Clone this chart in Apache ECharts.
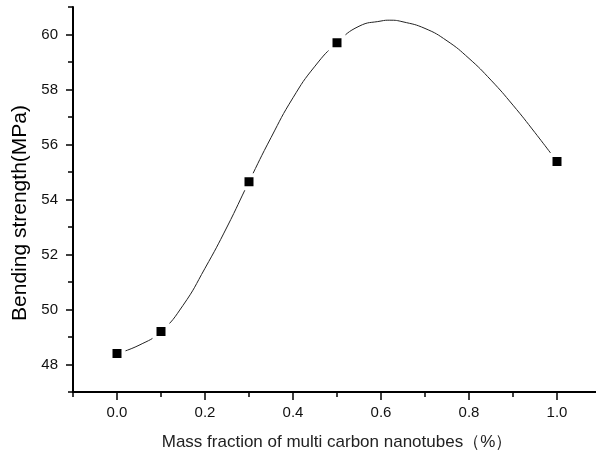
<!DOCTYPE html>
<html>
<head>
<meta charset="utf-8">
<script src="https://cdn.jsdelivr.net/npm/echarts@6/dist/echarts.min.js"></script>
<style>html,body{margin:0;padding:0;background:#fff;}#c{width:596px;height:454px;}</style>
</head>
<body>
<div id="c"></div>
<script>
// Measured data points
const massFraction = [0.0, 0.1, 0.3, 0.5, 1.0];
const bendingStrength = [48.4, 49.2, 54.65, 59.7, 55.38];
// Fitted curve
const curveX = [0, 0.05, 0.1, 0.15, 0.2, 0.25, 0.3, 0.35, 0.4, 0.45, 0.5, 0.55, 0.6, 0.62, 0.65, 0.7, 0.75, 0.8, 0.85, 0.9, 0.95, 1.0];
const curveY = [48.4, 48.7, 49.2, 50.15, 51.5, 53.0, 54.65, 56.25, 57.7, 58.85, 59.7, 60.3, 60.49, 60.52, 60.46, 60.22, 59.77, 59.13, 58.34, 57.43, 56.43, 55.38];
// Tick values
const xMajorTicks = [0.0, 0.2, 0.4, 0.6, 0.8, 1.0];
const xMinorTicks = [-0.1, 0.1, 0.3, 0.5, 0.7, 0.9, 1.1];
const yMajorTicks = [48, 50, 52, 54, 56, 58, 60];
const yMinorTicks = [47, 49, 51, 53, 55, 57, 59, 61];

const chart = echarts.init(document.getElementById('c'));
const font = 'Liberation Sans, Arial, sans-serif';
const baseX = {
  type: 'value', min: -0.1, max: 1.1, splitLine: {show: false}
};
const baseY = {
  type: 'value', min: 47, max: 61, splitLine: {show: false}
};
chart.setOption({
  animation: false,
  grid: {left: 73, top: 7, width: 528, height: 385, containLabel: false, outerBoundsMode: 'none'},
  xAxis: [
    Object.assign({}, baseX, {
      position: 'bottom',
      name: 'Mass fraction of multi carbon nanotubes（%）',
      nameLocation: 'middle', nameGap: 42,
      nameTextStyle: {fontFamily: font, fontSize: 17, color: '#222'},
      axisLine: {show: true, onZero: false, lineStyle: {color: '#000', width: 2}},
      axisTick: {show: true, length: 8, lineStyle: {color: '#000', width: 1.5}, customValues: xMajorTicks},
      axisLabel: {show: true, margin: 13, fontFamily: font, fontSize: 15, color: '#111',
        customValues: xMajorTicks, formatter: v => v.toFixed(1)}
    }),
    Object.assign({}, baseX, {
      position: 'bottom',
      axisLine: {show: false, onZero: false},
      axisTick: {show: true, length: 5, lineStyle: {color: '#000', width: 1.5}, customValues: xMinorTicks},
      axisLabel: {show: false}
    })
  ],
  yAxis: [
    Object.assign({}, baseY, {
      position: 'left',
      name: 'Bending strength(MPa)',
      nameLocation: 'middle', nameGap: 41,
      nameTextStyle: {fontFamily: font, fontSize: 21, color: '#000', padding: [0, 27, 0, 0]},
      axisLine: {show: true, onZero: false, lineStyle: {color: '#000', width: 2}},
      axisTick: {show: true, length: 7, lineStyle: {color: '#000', width: 1.5}, customValues: yMajorTicks},
      axisLabel: {show: true, margin: 15, fontFamily: font, fontSize: 15, color: '#111',
        customValues: yMajorTicks, formatter: v => String(v)}
    }),
    Object.assign({}, baseY, {
      position: 'left',
      axisLine: {show: false, onZero: false},
      axisTick: {show: true, length: 5, lineStyle: {color: '#000', width: 1.5}, customValues: yMinorTicks},
      axisLabel: {show: false}
    })
  ],
  series: [
    {
      type: 'line', xAxisIndex: 0, yAxisIndex: 0,
      data: curveX.map((x, i) => [x, curveY[i]]),
      smooth: 0.5, showSymbol: false, symbol: 'none',
      lineStyle: {color: '#222', width: 1}, z: 2
    },
    {
      type: 'scatter', xAxisIndex: 0, yAxisIndex: 0,
      data: massFraction.map((x, i) => [x, bendingStrength[i]]),
      symbol: 'rect', symbolSize: 13,
      itemStyle: {color: '#000', borderColor: '#fff', borderWidth: 4, opacity: 1}, z: 3
    }
  ]
});
</script>
</body>
</html>
